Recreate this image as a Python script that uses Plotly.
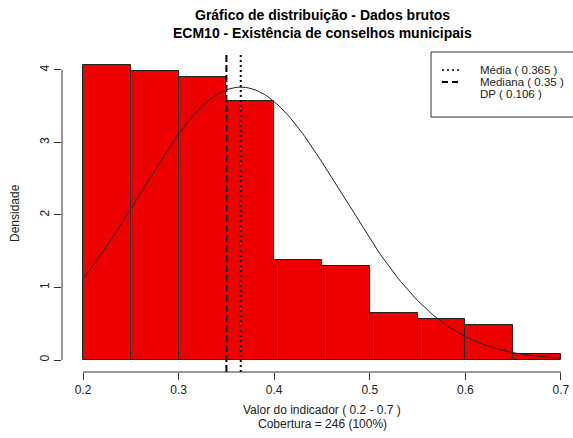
import numpy as np
import plotly.graph_objects as go

# Data
bin_edges = [0.2, 0.25, 0.3, 0.35, 0.4, 0.45, 0.5, 0.55, 0.6, 0.65, 0.7]
densities = [4.065, 3.984, 3.902, 3.577, 1.382, 1.301, 0.650, 0.569, 0.488, 0.081]
mean_val = 0.365
median_val = 0.35
sd_val = 0.106
x_ticks = [0.2, 0.3, 0.4, 0.5, 0.6, 0.7]
x_tick_labels = ["0.2", "0.3", "0.4", "0.5", "0.6", "0.7"]
y_ticks = [0, 1, 2, 3, 4]
title_lines = ["Gráfico de distribuição - Dados brutos", "ECM10 - Existência de conselhos municipais"]
xlab_lines = ["Valor do indicador ( 0.2 - 0.7 )", "Cobertura = 246 (100%)"]
ylab = "Densidade"
legend_labels = ["Média ( 0.365 )", "Mediana ( 0.35 )", "DP ( 0.106 )"]

centers = [(a + b) / 2 for a, b in zip(bin_edges[:-1], bin_edges[1:])]
widths = [b - a for a, b in zip(bin_edges[:-1], bin_edges[1:])]

# Normal density curve from mean and sd (as R's dnorm)
cx = np.linspace(bin_edges[0], bin_edges[-1], 201)
cy = np.exp(-0.5 * ((cx - mean_val) / sd_val) ** 2) / (sd_val * np.sqrt(2 * np.pi))

FONT = "Liberation Sans, Arial, sans-serif"
W, H = 573, 438
L, R, T, B = 62, 0, 53, 66
pw, ph = W - L - R, H - T - B

def px_x(p):
    return (p - L) / pw

def px_y(p):
    return (H - B - p) / ph

fig = go.Figure()
fig.add_trace(go.Bar(
    x=centers, y=densities, width=widths,
    marker=dict(color="#EE0000", line=dict(color="#222222", width=1)),
    hoverinfo="skip", showlegend=False,
))
fig.add_trace(go.Scatter(
    x=cx, y=cy, mode="lines",
    line=dict(color="#222222", width=1),
    hoverinfo="skip", showlegend=False,
))

shapes = []
# vertical reference lines
shapes.append(dict(type="line", xref="x", yref="paper", x0=median_val, x1=median_val, y0=0, y1=1,
                   line=dict(color="black", width=2, dash="7px,3px")))
shapes.append(dict(type="line", xref="x", yref="paper", x0=mean_val, x1=mean_val, y0=0, y1=1,
                   line=dict(color="black", width=2, dash="2px,3px")))
# axis lines (R style, spanning tick range only)
shapes.append(dict(type="line", xref="x", yref="paper", x0=x_ticks[0], x1=x_ticks[-1], y0=0, y1=0,
                   line=dict(color="#333333", width=1)))
shapes.append(dict(type="line", xref="paper", yref="y", x0=0, x1=0, y0=y_ticks[0], y1=y_ticks[-1],
                   line=dict(color="#333333", width=1)))
# legend box
shapes.append(dict(type="rect", xref="paper", yref="paper",
                   x0=px_x(431), x1=px_x(575), y0=px_y(117), y1=px_y(52),
                   line=dict(color="#333333", width=1), fillcolor="white"))
# legend samples
row_y = [70, 82, 94]
shapes.append(dict(type="line", xref="paper", yref="paper", x0=px_x(442), x1=px_x(460),
                   y0=px_y(row_y[0]), y1=px_y(row_y[0]), line=dict(color="black", width=1.5, dash="2px,3px")))
shapes.append(dict(type="line", xref="paper", yref="paper", x0=px_x(442), x1=px_x(460),
                   y0=px_y(row_y[1]), y1=px_y(row_y[1]), line=dict(color="black", width=2, dash="6px,4px")))

annotations = []
for i, t in enumerate(title_lines):
    annotations.append(dict(text="<b>%s</b>" % t, xref="paper", yref="paper",
                            x=px_x(322), y=px_y(15 + 18 * i), showarrow=False,
                            xanchor="center", yanchor="middle",
                            font=dict(family=FONT, size=14, color="black")))
for i, t in enumerate(xlab_lines):
    annotations.append(dict(text=t, xref="paper", yref="paper",
                            x=px_x(322), y=px_y(410 + 14 * i), showarrow=False,
                            xanchor="center", yanchor="middle",
                            font=dict(family=FONT, size=12, color="#222222")))
annotations.append(dict(text=ylab, xref="paper", yref="paper", x=px_x(15), y=px_y(213),
                        showarrow=False, textangle=-90, xanchor="center", yanchor="middle",
                        font=dict(family=FONT, size=12, color="#222222")))
for i, t in enumerate(legend_labels):
    annotations.append(dict(text=t, xref="paper", yref="paper", x=px_x(478), y=px_y(row_y[i]),
                            showarrow=False, xanchor="left", yanchor="middle",
                            font=dict(family=FONT, size=11.5, color="#222222")))

fig.update_layout(
    width=W, height=H,
    margin=dict(l=L, r=R, t=T, b=B, pad=0),
    paper_bgcolor="white", plot_bgcolor="white",
    bargap=0, showlegend=False,
    shapes=shapes, annotations=annotations,
    xaxis=dict(range=[0.178, 0.7126], tickvals=x_ticks, ticktext=x_tick_labels,
               ticks="outside", ticklen=7, tickcolor="#333333", tickwidth=1,
               showline=False, showgrid=False, zeroline=False,
               tickfont=dict(family=FONT, size=12, color="#222222")),
    yaxis=dict(range=[-0.1655, 4.234], tickvals=y_ticks,
               ticks="outside", ticklen=7, tickcolor="#333333", tickwidth=1, tickangle=-90,
               showline=False, showgrid=False, zeroline=False,
               tickfont=dict(family=FONT, size=12, color="#222222")),
)

fig.write_html("out.html", config={"displayModeBar": False},
               post_script="document.body.style.margin='0';document.body.style.overflow='hidden';")
